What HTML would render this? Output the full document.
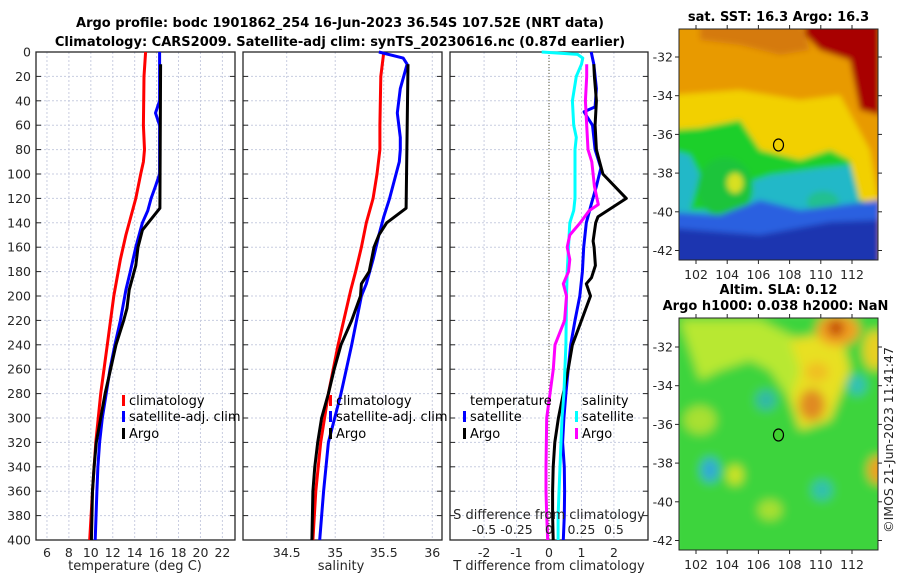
<!DOCTYPE html>
<html><head><meta charset="utf-8">
<style>
html,body{margin:0;padding:0;background:#fff;}
svg{display:block;font-family:"DejaVu Sans","Liberation Sans",sans-serif;}
.tick{font-size:12.5px;fill:#262626;}
.ttl{font-size:13px;font-weight:bold;fill:#000;}
.lab{font-size:13px;fill:#262626;}
.leg{font-size:13px;fill:#000;}
</style></head>
<body>
<svg id="chart" width="900" height="580" viewBox="0 0 900 580" xmlns="http://www.w3.org/2000/svg">
<defs>
 <filter id="blur1" x="-10%" y="-10%" width="120%" height="120%"><feGaussianBlur stdDeviation="3"/></filter>
 <filter id="blur2" x="-10%" y="-10%" width="120%" height="120%"><feGaussianBlur stdDeviation="5"/></filter>
 <clipPath id="clipMap1"><rect x="679" y="29" width="199" height="231"/></clipPath>
 <clipPath id="clipMap2"><rect x="679" y="318" width="199" height="232"/></clipPath>
</defs>
<text class="ttl" x="340" y="27" text-anchor="middle">Argo profile: bodc 1901862_254 16-Jun-2023 36.54S 107.52E (NRT data)</text>
<text class="ttl" x="340" y="46" text-anchor="middle">Climatology: CARS2009. Satellite-adj clim: synTS_20230616.nc (0.87d earlier)</text>
<g id="panels"></g>
<g id="maps"></g>
</svg>
<script>
// ---------- data ----------
const depthTicks = [0,20,40,60,80,100,120,140,160,180,200,220,240,260,280,300,320,340,360,380,400];
const tempTicks = [6,8,10,12,14,16,18,20,22];
const salTicks = [34.5,35,35.5,36];
const salTickLabels = ["34.5","35","35.5","36"];
const dTTicks = [-2,-1,0,1,2];
const dSTicks = [-0.5,-0.25,0,0.25,0.5];
const dSTickLabels = ["-0.5","-0.25","0","0.25","0.5"];

// Panel 1: temperature
const tClimDepth = [0,20,60,80,90,100,120,130,150,170,190,200,240,280,320,360,400];
const tClimVal   = [15.0,14.85,14.8,14.9,14.8,14.55,14.1,13.8,13.2,12.7,12.3,12.1,11.5,10.9,10.45,10.15,9.9];
const tSatDepth  = [0,40,50,60,100,110,120,130,140,160,180,195,220,240,260,280,300,320,340,360,400];
const tSatVal    = [16.27,16.27,15.9,16.27,16.27,15.9,15.5,15.2,14.7,14.1,13.6,13.2,12.7,12.2,11.75,11.4,11.05,10.8,10.65,10.55,10.4];
const tArgoDepth = [10,128,146,160,175,185,195,210,220,240,260,280,300,320,340,360,400];
const tArgoVal   = [16.36,16.3,14.7,14.3,14.1,13.8,13.5,13.3,13.0,12.3,11.8,11.3,10.9,10.5,10.3,10.15,10.05];

// Panel 2: salinity
const sClimDepth = [0,20,60,80,100,120,140,160,180,195,240,280,320,360,400];
const sClimVal   = [35.5,35.47,35.46,35.46,35.43,35.39,35.32,35.27,35.21,35.16,35.03,34.93,34.85,34.8,34.77];
const sSatDepth  = [0,5,10,30,50,70,80,90,120,135,150,170,190,200,240,280,320,360,400];
const sSatVal    = [35.45,35.70,35.74,35.67,35.64,35.67,35.67,35.66,35.56,35.5,35.45,35.39,35.32,35.27,35.17,35.06,34.93,34.88,34.84];
const sArgoDepth = [10,128,140,150,160,180,190,200,220,240,260,280,300,320,340,360,400];
const sArgoVal   = [35.75,35.73,35.53,35.45,35.4,35.35,35.27,35.26,35.17,35.06,34.99,34.93,34.86,34.82,34.79,34.77,34.76];

// Panel 3: differences
const dTSatDepth = [0,10,30,45,49,53,60,80,95,110,125,140,160,180,200,220,240,260,280,300,320,340,360,380,400];
const dTSatVal   = [1.3,1.38,1.46,1.42,1.08,1.17,1.34,1.42,1.6,1.46,1.3,1.15,1.07,1.03,0.95,0.8,0.67,0.59,0.52,0.46,0.42,0.47,0.48,0.47,0.44];
const dTArgoDepth= [10,20,40,60,80,90,100,120,135,140,155,160,175,185,190,200,220,240,260,280,300,320,340,360,380,400];
const dTArgoVal  = [1.38,1.4,1.46,1.42,1.46,1.56,1.66,2.38,1.51,1.44,1.36,1.39,1.43,1.31,1.15,1.28,1.0,0.72,0.59,0.44,0.29,0.18,0.13,0.11,0.11,0.13];
const dSSatDepth = [0,2,5,10,20,40,60,70,80,100,120,130,140,160,180,200,240,280,300,340,380,400];
const dSSatVal   = [-0.056,0.22,0.26,0.25,0.21,0.18,0.19,0.21,0.2,0.2,0.2,0.19,0.16,0.15,0.14,0.135,0.13,0.115,0.1,0.085,0.07,0.07];
const dSArgoDepth= [10,20,40,60,80,90,110,125,130,140,150,160,170,180,190,200,220,240,260,280,300,340,360,380,400];
const dSArgoVal  = [0.29,0.29,0.28,0.29,0.3,0.33,0.35,0.38,0.31,0.24,0.16,0.14,0.16,0.15,0.11,0.135,0.12,0.046,0.033,0.008,-0.018,-0.023,-0.023,-0.018,-0.01];

// ---------- helpers ----------
const NS = "http://www.w3.org/2000/svg";
const panels = document.getElementById('panels');
function mk(tag, attrs, parent){
  const e = document.createElementNS(NS, tag);
  for (const k in attrs) e.setAttribute(k, attrs[k]);
  (parent||panels).appendChild(e);
  return e;
}
const TOP = 52, BOT = 540;
function yD(d){ return TOP + d*(BOT-TOP)/400; }

const P = [
  {x0:36,x1:235,min:5,max:23.15},
  {x0:243,x1:442,min:34.05,max:36.1},
  {x0:450,x1:648,min:-3.05,max:3.05}
];
function xs(p,v){ return p.x0 + (v-p.min)*(p.x1-p.x0)/(p.max-p.min); }
function xSdiff(v){ return xs(P[2], v*4); }

function drawFrame(p, idx, xt, xtl){
  const g = mk('g',{});
  
  
  depthTicks.forEach(d=>{
    const l = mk('line',{x1:p.x0,x2:p.x1,y1:yD(d),y2:yD(d),stroke:'#c8cde0','stroke-width':1,'stroke-dasharray':'2,2'},g);
    
    
    [[p.x0,p.x0+5],[p.x1-5,p.x1]].forEach(s=>{
      const t = mk('line',{x1:s[0],x2:s[1],y1:yD(d),y2:yD(d),stroke:'#262626','stroke-width':1},g);
      
      
    });
  });
  xt.forEach((v,i)=>{
    const x = xs(p,v);
    const l = mk('line',{x1:x,x2:x,y1:TOP,y2:BOT,stroke:'#c8cde0','stroke-width':1,'stroke-dasharray':'2,2'},g);
    
    
    const t = mk('text',{x:x,y:BOT+17,'text-anchor':'middle',class:'tick'},g);
    t.textContent = xtl[i];
    
    
  });
  const r = mk('rect',{x:p.x0,y:TOP,width:p.x1-p.x0,height:BOT-TOP,fill:'none',stroke:'#262626','stroke-width':1.3},g);
  
  
  return g;
}
function drawLine(p, depths, vals, color, name, xfn){
  const pts = depths.map((d,i)=> (xfn?xfn(vals[i]):xs(p,vals[i])).toFixed(1)+','+yD(d).toFixed(1)).join(' ');
  const l = mk('polyline',{points:pts,fill:'none',stroke:color,'stroke-width':3,'stroke-linejoin':'round'});
  
  
}
function legend(x,y,color,label,name){
  if(color){
    const b = mk('rect',{x:x,y:y-10,width:3,height:11,fill:color});
    
    
  }
  const t = mk('text',{x:x+7,y:y,class:'leg'});
  t.textContent = label;
  
  
}

// Panel 1
drawFrame(P[0],0,tempTicks,tempTicks.map(String));
depthTicks.forEach(d=>{
  const t = mk('text',{x:31,y:yD(d)+4.5,'text-anchor':'end',class:'tick'});
  t.textContent = d;
  
  
});
drawLine(P[0],tClimDepth,tClimVal,'#ff0000','temp-climatology-line');
drawLine(P[0],tSatDepth,tSatVal,'#0000ff','temp-satellite-line');
drawLine(P[0],tArgoDepth,tArgoVal,'#000000','temp-argo-line');
let xl = mk('text',{x:135,y:570,'text-anchor':'middle',class:'lab'});
xl.textContent='temperature (deg C)';


legend(122,405,'#ff0000','climatology','legend-climatology');
legend(122,421,'#0000ff','satellite-adj. clim','legend-satellite');
legend(122,438,'#000000','Argo','legend-argo');

// Panel 2
drawFrame(P[1],1,salTicks,salTickLabels);
drawLine(P[1],sClimDepth,sClimVal,'#ff0000','sal-climatology-line');
drawLine(P[1],sSatDepth,sSatVal,'#0000ff','sal-satellite-line');
drawLine(P[1],sArgoDepth,sArgoVal,'#000000','sal-argo-line');
xl = mk('text',{x:341,y:570,'text-anchor':'middle',class:'lab'});
xl.textContent='salinity';


legend(329,405,'#ff0000','climatology','legend-sal-climatology');
legend(329,421,'#0000ff','satellite-adj. clim','legend-sal-satellite');
legend(329,438,'#000000','Argo','legend-sal-argo');

// Panel 3
drawFrame(P[2],2,dTTicks,dTTicks.map(String));
let zl = mk('line',{x1:xs(P[2],0),x2:xs(P[2],0),y1:TOP,y2:BOT,stroke:'#555533','stroke-width':1,'stroke-dasharray':'1,2'});


drawLine(P[2],dTSatDepth,dTSatVal,'#0000ff','tdiff-satellite-line');
drawLine(P[2],dTArgoDepth,dTArgoVal,'#000000','tdiff-argo-line');
drawLine(P[2],dSSatDepth,dSSatVal,'#00ffff','sdiff-satellite-line',xSdiff);
drawLine(P[2],dSArgoDepth,dSArgoVal,'#ff00ff','sdiff-argo-line',xSdiff);
xl = mk('text',{x:549,y:570,'text-anchor':'middle',class:'lab'});
xl.textContent='T difference from climatology';


xl = mk('text',{x:549,y:519,'text-anchor':'middle',class:'lab'});
xl.textContent='S difference from climatology';


dSTicks.forEach((v,i)=>{
  const t = mk('text',{x:xSdiff(v),y:534,'text-anchor':'middle',class:'tick'});
  t.textContent = dSTickLabels[i];
  
  
});
let tl = mk('text',{x:470,y:405,class:'leg'});
tl.textContent='temperature';


legend(463,421,'#0000ff','satellite','legend-tdiff-satellite');
legend(463,438,'#000000','Argo','legend-tdiff-argo');
tl = mk('text',{x:582,y:405,class:'leg'});
tl.textContent='salinity';


legend(575,421,'#00ffff','satellite','legend-sdiff-satellite');
legend(575,438,'#ff00ff','Argo','legend-sdiff-argo');

// ---------- maps ----------
const maps = document.getElementById('maps');
const lonTicks = [102,104,106,108,110,112];
const latTicks = [-32,-34,-36,-38,-40,-42];
function mapAxes(x0,x1,y0,y1,latRef,name,titleLines){
  const g = mk('g',{},maps);
  
  
  const lonX = v => 696 + (v-102)*15.6;
  const latY = v => latRef + (-32 - v)*19.35;
  lonTicks.forEach(v=>{
    const t = mk('text',{x:lonX(v),y:y1+19,'text-anchor':'middle',class:'tick'},g);
    t.textContent = v;
    
    
    mk('line',{x1:lonX(v),x2:lonX(v),y1:y1,y2:y1+4,stroke:'#262626'},g);
    mk('line',{x1:lonX(v),x2:lonX(v),y1:y0,y2:y0-4,stroke:'#262626'},g);
  });
  latTicks.forEach(v=>{
    const t = mk('text',{x:x0-6,y:latY(v)+4.5,'text-anchor':'end',class:'tick'},g);
    t.textContent = v;
    
    
    mk('line',{x1:x0-4,x2:x0,y1:latY(v),y2:latY(v),stroke:'#262626'},g);
    mk('line',{x1:x1,x2:x1+4,y1:latY(v),y2:latY(v),stroke:'#262626'},g);
  });
  const r = mk('rect',{x:x0,y:y0,width:x1-x0,height:y1-y0,fill:'none',stroke:'#262626','stroke-width':1},g);
  
  
  titleLines.forEach((s,i)=>{
    const t = mk('text',{x:(x0+x1)/2 - (i==1?3:0),y:y0-8-(titleLines.length-1-i)*16,'text-anchor':'middle',class:'ttl'},g);
    t.textContent = s;
    
    
  });
  return {lonX,latY};
}
// SST map image
const m1 = mk('g',{'clip-path':'url(#clipMap1)'},maps);


const g1 = mk('g',{filter:'url(#blur1)'},m1);
mk('rect',{x:670,y:20,width:220,height:250,fill:'#e89a00'},g1);
mk('path',{d:'M670 95 L740 90 L800 100 L840 95 L870 150 L880 210 L860 230 L820 170 L790 175 L760 160 L720 145 L670 150 Z',fill:'#f2d000'},g1);
mk('path',{d:'M670 130 L700 128 L740 120 L760 150 L800 160 L830 150 L850 160 L860 200 L880 205 L880 270 L670 270 Z',fill:'#1ccf2a'},g1);
mk('path',{d:'M670 150 L690 155 L700 175 L690 210 L720 210 L740 185 L770 175 L820 168 L850 165 L860 205 L880 210 L880 270 L670 270 Z',fill:'#22b8c8'},g1);
mk('ellipse',{cx:725,cy:188,rx:28,ry:30,fill:'#1fc43a'},g1);
mk('ellipse',{cx:735,cy:183,rx:8,ry:10,fill:'#d8e020'},g1);
mk('ellipse',{cx:823,cy:202,rx:16,ry:11,fill:'#20c090'},g1);
mk('path',{d:'M670 212 L720 215 L760 200 L800 210 L840 205 L880 200 L880 270 L670 270 Z',fill:'#2a60e0'},g1);
mk('path',{d:'M670 228 L760 235 L830 222 L880 220 L880 270 L670 270 Z',fill:'#1a35b0'},g1);
mk('path',{d:'M805 20 L880 20 L880 115 L860 110 L850 60 L820 50 L805 35 Z',fill:'#a80000'},g1);
mk('path',{d:'M700 20 L800 20 L810 50 L780 55 L740 45 L700 40 Z',fill:'#d57a10'},g1);
mapAxes(679,878,29,260,57,'sst-map',['sat. SST: 16.3 Argo: 16.3']);
const c1 = mk('ellipse',{cx:778.5,cy:145,rx:5,ry:6,fill:'none',stroke:'#000','stroke-width':1.2},maps);



// SLA map image
const m2 = mk('g',{'clip-path':'url(#clipMap2)'},maps);


const g2 = mk('g',{filter:'url(#blur2)'},m2);
mk('rect',{x:670,y:310,width:220,height:250,fill:'#3cd43c'},g2);
mk('path',{d:'M680 320 L760 320 L800 340 L810 380 L790 400 L770 370 L750 360 L720 370 L700 380 L690 350 Z',fill:'#b8e830'},g2);
mk('path',{d:'M790 340 L840 330 L850 370 L830 420 L800 430 L790 400 L800 370 Z',fill:'#e8e020'},g2);
mk('ellipse',{cx:812,cy:405,rx:13,ry:16,fill:'#e08a20'},g2);
mk('ellipse',{cx:817,cy:372,rx:12,ry:10,fill:'#f0c020'},g2);
mk('ellipse',{cx:838,cy:330,rx:22,ry:16,fill:'#f0a020'},g2);
mk('ellipse',{cx:836,cy:328,rx:8,ry:8,fill:'#c04000'},g2);
mk('ellipse',{cx:875,cy:350,rx:12,ry:20,fill:'#e8d020'},g2);
mk('ellipse',{cx:878,cy:470,rx:10,ry:14,fill:'#f0a020'},g2);
mk('ellipse',{cx:766,cy:400,rx:10,ry:10,fill:'#30b8a8'},g2);
mk('ellipse',{cx:710,cy:470,rx:9,ry:12,fill:'#30a8d8'},g2);
mk('ellipse',{cx:822,cy:490,rx:10,ry:10,fill:'#30c0b0'},g2);
mk('ellipse',{cx:857,cy:385,rx:9,ry:10,fill:'#30c0b8'},g2);
mk('ellipse',{cx:735,cy:475,rx:8,ry:10,fill:'#d0e420'},g2);
mk('ellipse',{cx:700,cy:420,rx:16,ry:14,fill:'#a8e030'},g2);
mk('ellipse',{cx:770,cy:510,rx:12,ry:10,fill:'#a8e030'},g2);
mapAxes(679,878,318,550,347,'sla-map',['Altim. SLA: 0.12','Argo h1000: 0.038 h2000: NaN']);
const c2 = mk('ellipse',{cx:778.5,cy:435,rx:5,ry:6,fill:'#40d030',stroke:'#000','stroke-width':1.2},maps);


const cp = mk('text',{x:0,y:0,class:'tick',transform:'translate(893,440) rotate(-90)','text-anchor':'middle'},maps);
cp.textContent = '©IMOS 21-Jun-2023 11:41:47';


</script>
</body></html>
